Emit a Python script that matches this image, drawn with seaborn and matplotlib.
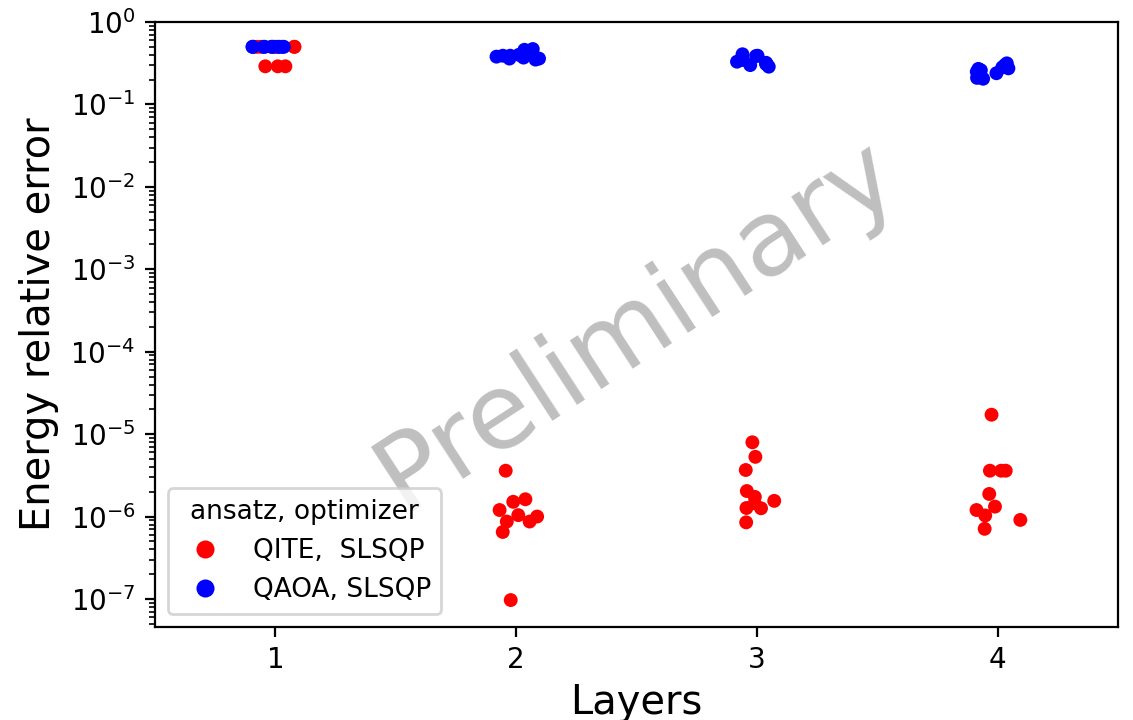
import numpy as np
import pandas as pd
import matplotlib
matplotlib.use("Agg")
import matplotlib.pyplot as plt
import seaborn as sns

np.random.seed(3)

layers = [1, 2, 3, 4]
hue_labels = ["QITE,  SLSQP", "QAOA, SLSQP"]

qite_l1 = [0.29, 0.29, 0.29, 0.50, 0.50, 0.50, 0.50, 0.50, 0.50, 0.50]
qite_l2 = [3.6e-6, 1.62e-6, 1.51e-6, 1.2e-6, 1.04e-6, 8.7e-7, 8.7e-7, 6.5e-7, 9.7e-8, 1.0e-6]
qite_l3 = [7.96e-6, 5.3e-6, 3.67e-6, 2.04e-6, 1.73e-6, 1.55e-6, 1.26e-6, 1.27e-6, 8.5e-7, 1.45e-6]
qite_l4 = [1.72e-5, 3.6e-6, 3.6e-6, 3.6e-6, 1.88e-6, 1.32e-6, 1.2e-6, 1.03e-6, 9.1e-7, 7.1e-7]

qaoa_l1 = [0.50, 0.50, 0.50, 0.50, 0.50, 0.50, 0.50, 0.50, 0.50, 0.50]
qaoa_l2 = [0.36, 0.46, 0.35, 0.47, 0.39, 0.38, 0.37, 0.40, 0.36, 0.39]
qaoa_l3 = [0.346, 0.406, 0.39, 0.33, 0.387, 0.30, 0.307, 0.287, 0.32, 0.31]
qaoa_l4 = [0.315, 0.30, 0.274, 0.239, 0.282, 0.249, 0.21, 0.205, 0.26, 0.27]

qite_vals = [qite_l1, qite_l2, qite_l3, qite_l4]
qaoa_vals = [qaoa_l1, qaoa_l2, qaoa_l3, qaoa_l4]

rows = []
for lab, series in zip(hue_labels, [qite_vals, qaoa_vals]):
    for layer, vals in zip(layers, series):
        for v in vals:
            rows.append({"Layers": layer, "err": v, "ansatz, optimizer": lab})
df = pd.DataFrame(rows)

fig = plt.figure(figsize=(1133 / 200, 720 / 200), dpi=200)
ax = fig.add_axes([155 / 1133, 1 - 627 / 720, (1118 - 155) / 1133, (627 - 22) / 720])

sns.stripplot(data=df, x="Layers", y="err", hue="ansatz, optimizer",
              hue_order=hue_labels,
              palette={hue_labels[0]: "red", hue_labels[1]: "blue"},
              jitter=True, size=5, ax=ax)
ax.set_yscale("log")
ax.set_ylim(10 ** -7.34, 1.0)
ax.set_xlim(-0.5, 3.5)
ax.set_xlabel("Layers", fontsize=14.4, labelpad=3)
ax.set_ylabel("Energy relative error", fontsize=14.4)
ax.tick_params(labelsize=10)

sns.move_legend(ax, "lower left", title="ansatz, optimizer", markerscale=1.3,
                fontsize=9.5, title_fontsize=9.5)

ax.text(0.5, 0.5, "Preliminary", transform=ax.transAxes, fontsize=38,
        color="gray", alpha=0.5, ha="center", va="center", rotation=33)

fig.savefig("out.png", dpi=200)
